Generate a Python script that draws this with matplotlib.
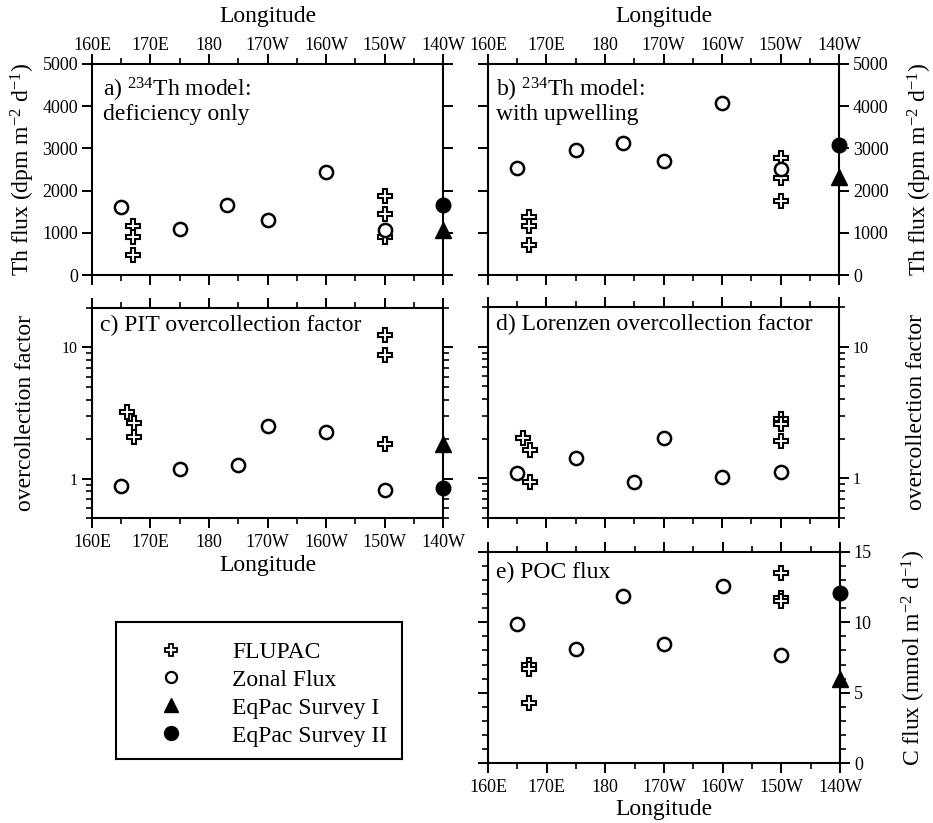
import matplotlib
matplotlib.use('Agg')
import matplotlib.pyplot as plt
from matplotlib.ticker import FixedLocator, MultipleLocator, NullFormatter, FixedFormatter
from matplotlib.lines import Line2D

plt.rcParams['font.family'] = ['Liberation Serif', 'DejaVu Serif']
plt.rcParams['mathtext.fontset'] = 'custom'
plt.rcParams['mathtext.rm'] = 'Liberation Serif'
plt.rcParams['mathtext.it'] = 'Liberation Serif:italic'
plt.rcParams['mathtext.default'] = 'regular'

# ---------------- data ----------------
lon_ticks = [160, 170, 180, 190, 200, 210, 220]
lon_labels = ['160E', '170E', '180', '170W', '160W', '150W', '140W']

# a) Th model: deficiency only
lon_zonal_a = [165, 175, 183, 190, 200, 210]
th_zonal_a = [1600, 1090, 1650, 1300, 2450, 1060]
lon_flupac_a = [167, 167, 167, 210, 210, 210]
th_flupac_a = [1150, 910, 470, 1870, 1440, 890]
th_eqpac1_a = [1060]
th_eqpac2_a = [1670]

# b) Th model: with upwelling
lon_zonal_b = [165, 175, 183, 190, 200, 210]
th_zonal_b = [2530, 2960, 3120, 2710, 4070, 2505]
lon_flupac_b = [167, 167, 167, 210, 210, 210]
th_flupac_b = [1380, 1150, 700, 2765, 2290, 1760]
th_eqpac1_b = [2330]
th_eqpac2_b = [3070]

# c) PIT overcollection factor
lon_zonal_c = [165, 175, 185, 190, 200, 210]
oc_zonal_c = [0.87, 1.19, 1.26, 2.51, 2.26, 0.82]
lon_flupac_c = [166, 167.2, 167.2, 210, 210, 210]
oc_flupac_c = [3.23, 2.63, 2.06, 12.4, 8.8, 1.85]
oc_eqpac1_c = [1.82]
oc_eqpac2_c = [0.85]

# d) Lorenzen overcollection factor
lon_zonal_d = [165, 175, 185, 190, 200, 210]
oc_zonal_d = [1.10, 1.42, 0.94, 2.02, 1.02, 1.11]
lon_flupac_d = [166, 167.2, 167.2, 210, 210, 210]
oc_flupac_d = [2.02, 1.64, 0.94, 2.81, 2.58, 1.92]

# e) POC flux
lon_zonal_e = [165, 175, 183, 190, 200, 210]
c_zonal_e = [9.9, 8.1, 11.85, 8.45, 12.6, 7.65]
lon_flupac_e = [167, 167, 167, 210, 210, 210]
c_flupac_e = [7.0, 6.7, 4.26, 13.5, 11.7, 11.5]
c_eqpac1_e = [6.0]
c_eqpac2_e = [12.1]

lon_eqpac = [220]

legend_labels = ['FLUPAC', 'Zonal Flux', 'EqPac Survey I', 'EqPac Survey II']

# ---------------- styles ----------------
W, H = 933, 823
fig = plt.figure(figsize=(W / 100, H / 100), dpi=100)

TICK_FS = 13
LOG_TICK_FS = 11.5
LABEL_FS = 17
PANEL_FS = 17

cross_kw = dict(marker='P', ms=10.5, mfc='white', mec='black', mew=1.5, ls='none', clip_on=False, zorder=3)
circ_kw = dict(marker='o', ms=9.5, mfc='white', mec='black', mew=1.8, ls='none', clip_on=False, zorder=3)
tri_kw = dict(marker='^', ms=11, mfc='black', mec='black', ls='none', clip_on=False, zorder=4)
dot_kw = dict(marker='o', ms=10.5, mfc='black', mec='black', ls='none', clip_on=False, zorder=4)


def px_axes(left, right, top, bottom):
    return fig.add_axes([left / W, (H - bottom) / H, (right - left) / W, (bottom - top) / H])


def style(ax, xlab_top=False, xlab_bottom=False, ylab_right=False):
    ax.set_xlim(160, 220)
    ax.xaxis.set_major_locator(FixedLocator(lon_ticks))
    ax.xaxis.set_major_formatter(FixedFormatter(lon_labels))
    ax.xaxis.set_minor_locator(MultipleLocator(5))
    for s in ax.spines.values():
        s.set_linewidth(1.5)
    ax.tick_params(which='major', direction='out', length=7, width=1.4, labelsize=TICK_FS, pad=3,
                   top=True, bottom=True, left=True, right=True,
                   labeltop=xlab_top, labelbottom=xlab_bottom,
                   labelleft=not ylab_right, labelright=ylab_right)
    ax.tick_params(which='minor', direction='out', length=4.5, width=1.2,
                   top=True, bottom=True, left=True, right=True)
    if xlab_top:
        ax.tick_params(axis='x', which='major', pad=0.5)
    if xlab_bottom:
        ax.tick_params(axis='x', which='major', pad=4.5)


def panel_text(ax, x, y, s):
    ax.text(x, y, s, transform=ax.transAxes, fontsize=PANEL_FS, ha='left', va='center')


def plot_points(ax, lz, vz, lf, vf, e1=None, e2=None):
    ax.plot(lf, vf, **cross_kw)
    ax.plot(lz, vz, **circ_kw)
    if e1 is not None:
        ax.plot(lon_eqpac, e1, **tri_kw)
    if e2 is not None:
        ax.plot(lon_eqpac, e2, **dot_kw)


th_label = r'Th flux (dpm m$^{\mathrm{-2}}$ d$^{\mathrm{-1}}$)'

# ---- panel a ----
ax_a = px_axes(92, 443, 64, 275)
style(ax_a, xlab_top=True)
ax_a.set_ylim(0, 5000)
ax_a.yaxis.set_major_locator(MultipleLocator(1000))
plot_points(ax_a, lon_zonal_a, th_zonal_a, lon_flupac_a, th_flupac_a, th_eqpac1_a, th_eqpac2_a)
panel_text(ax_a, 0.031, 0.878, r'a) $^{234}$Th model:')
panel_text(ax_a, 0.031, 0.762, 'deficiency only')
ax_a.set_ylabel(th_label, fontsize=LABEL_FS)
ax_a.yaxis.set_label_coords(-0.158, 0.5)
ax_a.xaxis.set_label_position('top')
ax_a.set_xlabel('Longitude', fontsize=LABEL_FS)
ax_a.xaxis.set_label_coords(0.5, 1.2)

# ---- panel b ----
ax_b = px_axes(488, 839, 64, 275)
style(ax_b, xlab_top=True, ylab_right=True)
ax_b.set_ylim(0, 5000)
ax_b.yaxis.set_major_locator(MultipleLocator(1000))
plot_points(ax_b, lon_zonal_b, th_zonal_b, lon_flupac_b, th_flupac_b, th_eqpac1_b, th_eqpac2_b)
panel_text(ax_b, 0.023, 0.878, r'b) $^{234}$Th model:')
panel_text(ax_b, 0.023, 0.762, 'with upwelling')
ax_b.yaxis.set_label_position('right')
ax_b.set_ylabel(th_label, fontsize=LABEL_FS)
ax_b.yaxis.set_label_coords(1.19, 0.5)
ax_b.xaxis.set_label_position('top')
ax_b.set_xlabel('Longitude', fontsize=LABEL_FS)
ax_b.xaxis.set_label_coords(0.5, 1.2)


def log_style(ax):
    ax.set_yscale('log')
    ax.set_ylim(0.5, 20)
    ax.yaxis.set_major_locator(FixedLocator([1, 10]))
    ax.yaxis.set_major_formatter(FixedFormatter(['1', '10']))
    ax.yaxis.set_minor_locator(FixedLocator([0.5, 0.6, 0.7, 0.8, 0.9, 2, 3, 4, 5, 6, 7, 8, 9, 20]))
    ax.yaxis.set_minor_formatter(NullFormatter())
    ax.tick_params(axis='y', which='major', labelsize=LOG_TICK_FS)


# ---- panel c ----
ax_c = px_axes(92, 443, 308, 518)
style(ax_c, xlab_bottom=True)
log_style(ax_c)
plot_points(ax_c, lon_zonal_c, oc_zonal_c, lon_flupac_c, oc_flupac_c, oc_eqpac1_c, oc_eqpac2_c)
panel_text(ax_c, 0.023, 0.915, 'c) PIT overcollection factor')
ax_c.set_ylabel('overcollection factor', fontsize=LABEL_FS)
ax_c.yaxis.set_label_coords(-0.16, 0.5)
ax_c.set_xlabel('Longitude', fontsize=LABEL_FS)
ax_c.xaxis.set_label_coords(0.5, -0.175)

# ---- panel d ----
ax_d = px_axes(488, 839, 307, 518)
style(ax_d, ylab_right=True)
log_style(ax_d)
plot_points(ax_d, lon_zonal_d, oc_zonal_d, lon_flupac_d, oc_flupac_d)
panel_text(ax_d, 0.023, 0.915, 'd) Lorenzen overcollection factor')
ax_d.yaxis.set_label_position('right')
ax_d.set_ylabel('overcollection factor', fontsize=LABEL_FS)
ax_d.yaxis.set_label_coords(1.19, 0.5)

# ---- panel e ----
ax_e = px_axes(488, 840, 552, 763)
style(ax_e, xlab_bottom=True, ylab_right=True)
ax_e.set_ylim(0, 15)
ax_e.yaxis.set_major_locator(MultipleLocator(5))
ax_e.yaxis.set_minor_locator(MultipleLocator(1))
plot_points(ax_e, lon_zonal_e, c_zonal_e, lon_flupac_e, c_flupac_e, c_eqpac1_e, c_eqpac2_e)
panel_text(ax_e, 0.023, 0.905, 'e) POC flux')
ax_e.yaxis.set_label_position('right')
ax_e.set_ylabel(r'C flux (mmol m$^{\mathrm{-2}}$ d$^{\mathrm{-1}}$)', fontsize=LABEL_FS)
ax_e.yaxis.set_label_coords(1.17, 0.5)
ax_e.set_xlabel('Longitude', fontsize=LABEL_FS)
ax_e.xaxis.set_label_coords(0.5, -0.17)

# ---- legend box ----
ax_l = px_axes(116, 402, 622, 759)
ax_l.set_xticks([])
ax_l.set_yticks([])
for s in ax_l.spines.values():
    s.set_linewidth(1.5)
handles = [
    Line2D([], [], marker='P', ms=9, mfc='white', mec='black', mew=1.3, ls='none'),
    Line2D([], [], marker='o', ms=8, mfc='white', mec='black', mew=1.6, ls='none'),
    Line2D([], [], marker='^', ms=9.5, mfc='black', mec='black', ls='none'),
    Line2D([], [], marker='o', ms=10, mfc='black', mec='black', ls='none'),
]
ax_l.legend(handles, legend_labels, loc='center left', bbox_to_anchor=(0.11, 0.475),
            frameon=False, fontsize=LABEL_FS, handlelength=1.0, handletextpad=2.08,
            labelspacing=0.27, borderpad=0.0)

fig.savefig('out.png', dpi=100)
